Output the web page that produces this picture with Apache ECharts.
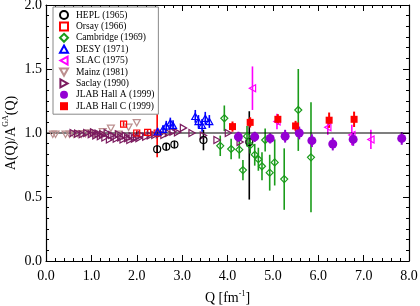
<!DOCTYPE html>
<html><head><meta charset="utf-8">
<script src="https://cdn.jsdelivr.net/npm/echarts@6/dist/echarts.min.js"></script>
<style>html,body{margin:0;padding:0;background:#fff}#c{width:420px;height:306px}</style>
</head><body><div id="c"></div>
<script>
// Each point: [Q (fm^-1), A(Q)/A_GA(Q), error down, error up]
const hepl = [[2.45,0.873,0.03,0.03],[2.65,0.893,0.03,0.03],[2.83,0.91,0.03,0.03],[3.47,0.945,0.08,0.08],[4.48,0.93,0.45,0.24]];
const orsay = [[1.71,1.07,0.02,0.02],[2.0,1.0,0.02,0.02],[2.24,1.005,0.02,0.02],[2.45,1.0,0.19,0.19]];
const cambridge = [[3.84,0.90,0.08,0.08],[3.93,1.115,0.1,0.1],[4.08,0.875,0.08,0.08],[4.26,0.87,0.07,0.07],[4.34,0.71,0.08,0.08],[4.43,0.975,0.08,0.08],[4.50,0.905,0.065,0.065],[4.60,0.83,0.085,0.085],[4.68,0.795,0.09,0.09],[4.76,0.74,0.11,0.11],[4.83,0.945,0.09,0.09],[4.93,0.69,0.14,0.14],[5.04,0.77,0.18,0.18],[5.25,0.64,0.24,0.24],[5.56,1.18,0.32,0.32],[5.84,0.81,0.43,0.43]];
const desy = [[2.46,1.01,0.03,0.03],[2.58,1.03,0.03,0.03],[2.65,1.055,0.04,0.04],[2.74,1.08,0.04,0.04],[2.80,1.06,0.04,0.04],[3.29,1.13,0.05,0.05],[3.36,1.09,0.05,0.05],[3.44,1.06,0.05,0.05],[3.51,1.115,0.05,0.05],[3.60,1.09,0.05,0.05]];
const slac = [[4.55,1.35,0.17,0.17],[5.09,1.09,0.06,0.06],[6.21,1.045,0.06,0.06],[6.74,0.985,0.08,0.08],[7.16,0.95,0.075,0.075]];
const mainzQ = [0.15,0.21,0.43,0.52,0.61,0.70,0.78,0.87,0.95,1.05,1.18,1.25,1.43,1.60,1.82,2.00];
const mainzA = [0.99,0.99,0.99,0.99,0.99,0.995,0.99,0.995,1.0,0.99,0.985,1.01,1.037,0.99,1.045,1.08];
const saclayQ = [0.60,0.70,0.80,0.90,1.00,1.05,1.10,1.15,1.20,1.25,1.30,1.35,1.40,1.45,1.50,1.55,1.60,1.65,1.70,1.75,1.80,1.85,1.90,1.95,2.00,2.05,2.10,2.20,2.30,2.40,2.50,2.60,2.70,2.80,2.90,3.03,3.22,3.47,3.77,4.02,4.28];
const saclayA = [1.0,0.995,0.99,1.0,0.99,1.005,0.98,0.995,0.975,0.99,0.965,1.0,0.95,0.985,0.97,0.955,0.99,0.965,0.95,0.98,0.96,0.945,0.975,0.955,0.97,0.96,0.985,0.97,0.98,0.985,0.99,0.985,1.0,1.01,1.005,1.04,1.0,0.98,0.945,1.0,0.93];
const hallA = [[4.24,0.97,0.04,0.04],[4.60,0.97,0.04,0.04],[4.94,0.958,0.04,0.04],[5.27,0.975,0.05,0.05],[5.58,1.0,0.05,0.05],[5.86,0.94,0.05,0.05],[6.32,0.914,0.05,0.05],[6.77,0.95,0.05,0.05],[7.84,0.958,0.05,0.05]];
const hallC = [[4.11,1.05,0.04,0.04],[4.50,1.083,0.04,0.04],[5.11,1.107,0.04,0.04],[5.50,1.055,0.04,0.04],[6.24,1.10,0.06,0.06],[6.79,1.107,0.06,0.06]];
const xTicks = [0,1,2,3,4,5,6,7,8];
const yTicks = [0,0.5,1,1.5,2];
const refValue = 1.0;

const FONT = 'Liberation Serif';
const mainz = mainzQ.map((q,i)=>[q,mainzA[i],0,0]);
const saclay = saclayQ.map((q,i)=>[q,saclayA[i],0,0]);

const TRI_UP = 'path://M5,0 L10,9 L0,9 Z';
const TRI_DOWN = 'path://M0,0 L10,0 L5,9 Z';
const TRI_LEFT = 'path://M9,0 L9,10 L0,5 Z';
const TRI_RIGHT = 'path://M0,0 L9,5 L0,10 Z';

function errSeries(id, data, color, w){
  return {type:'custom', name:id+'_err', silent:true, clip:true, z:1,
    renderItem(params, api){
      const x=api.value(0), y=api.value(1), lo=api.value(2), hi=api.value(3);
      if(!(lo>0||hi>0)) return null;
      const p1=api.coord([x,y-lo]), p2=api.coord([x,y+hi]);
      return {type:'line', shape:{x1:p1[0],y1:p1[1],x2:p2[0],y2:p2[1]}, style:{stroke:color, lineWidth:w||1.6}};
    },
    encode:{x:0,y:1}, data};
}
function sc(name, data, color, symbol, size, filled){
  return {type:'scatter', name, data, symbol, symbolSize:size, symbolKeepAspect:true, z:3,
    itemStyle:{color: filled?color:'rgba(255,255,255,0)', borderColor:color, borderWidth: filled?0:1.2, opacity:1}};
}
const C = {hepl:'#000000', orsay:'#ff0000', camb:'#1a9c1a', desy:'#0000ff', slac:'#ff00ff', mainz:'#bc8f8f', saclay:'#7a1a5e', hallA:'#9400d3', hallC:'#ff0000'};
const names = ['HEPL (1965)','Orsay (1966)','Cambridge (1969)','DESY (1971)','SLAC (1975)','Mainz (1981)','Saclay (1990)','JLAB Hall A (1999)','JLAB Hall C (1999)'];

const axisCommon = {
  axisLine:{show:true, onZero:false, lineStyle:{color:'#000', width:1.2}},
  axisTick:{show:true, inside:true, length:6, lineStyle:{color:'#000', width:1}},
  splitLine:{show:false}
};
const labelStyle = {color:'#000', fontFamily:FONT, fontSize:14};
const xMinor = {minorTick:{show:true, splitNumber:5, length:3, lineStyle:{color:'#000'}}};
const yMinor = {minorTick:{show:true, splitNumber:6, length:3, lineStyle:{color:'#000'}}};

const option = {
  animation:false,
  backgroundColor:'#fff',
  grid:{left:46, right:11, top:5, bottom:45, containLabel:false, outerBoundsMode:'none'},
  legend:{
    orient:'vertical', left:53, top:7, data:names,
    itemWidth:8, itemHeight:8, itemGap:1.4,
    padding:[3,4,3,6],
    borderColor:'#888', borderWidth:1, backgroundColor:'#fff',
    textStyle:{fontFamily:FONT, fontSize:9.5, lineHeight:10, color:'#000', padding:[0,0,0,3]},
    selectedMode:false
  },
  xAxis:[
    Object.assign({type:'value', min:xTicks[0], max:xTicks[xTicks.length-1], interval:1, position:'bottom',
      axisLabel:Object.assign({formatter:v=>v.toFixed(1), margin:8, showMinLabel:true, showMaxLabel:true}, labelStyle),
      name:'Q [fm{sup|-1}]', nameLocation:'middle', nameGap:29, nameMoveOverlap:false,
      nameTextStyle:{fontFamily:FONT, fontSize:14, color:'#000', rich:{sup:{fontFamily:FONT, fontSize:8, padding:[0,0,8,0]}}}
    }, axisCommon, xMinor),
    Object.assign({type:'value', min:xTicks[0], max:xTicks[xTicks.length-1], interval:1, position:'top', axisLabel:{show:false}}, axisCommon, xMinor)
  ],
  yAxis:[
    Object.assign({type:'value', min:yTicks[0], max:yTicks[yTicks.length-1], interval:0.5, position:'left',
      axisLabel:Object.assign({formatter:v=>v.toFixed(1), margin:4}, labelStyle),
      name:'A(Q)/A{sup|GA}(Q)', nameLocation:'middle', nameGap:26, nameMoveOverlap:false,
      nameTextStyle:{fontFamily:FONT, fontSize:14, color:'#000', rich:{sup:{fontFamily:FONT, fontSize:8, padding:[0,0,10,0]}}}
    }, axisCommon, yMinor),
    Object.assign({type:'value', min:yTicks[0], max:yTicks[yTicks.length-1], interval:0.5, position:'right', axisLabel:{show:false}}, axisCommon, yMinor)
  ],
  series:[
    {type:'line', name:'ref', data:[[xTicks[0],refValue],[xTicks[xTicks.length-1],refValue]], symbol:'none', lineStyle:{color:'#000', width:1.2}, z:2, silent:true},
    errSeries('mainz', mainz, C.mainz), errSeries('saclay', saclay, C.saclay),
    errSeries('orsay', orsay, C.orsay), errSeries('hepl', hepl, C.hepl),
    errSeries('desy', desy, C.desy), errSeries('camb', cambridge, C.camb),
    errSeries('slac', slac, C.slac), errSeries('hallA', hallA, C.hallA, 2), errSeries('hallC', hallC, C.hallC, 2),
    sc(names[5], mainz, C.mainz, TRI_DOWN, 7, false),
    sc(names[6], saclay, C.saclay, TRI_RIGHT, 7, false),
    sc(names[1], orsay, C.orsay, 'rect', 6, false),
    sc(names[0], hepl, C.hepl, 'circle', 7, false),
    sc(names[3], desy, C.desy, TRI_UP, 7, false),
    sc(names[2], cambridge, C.camb, 'diamond', 7, false),
    sc(names[4], slac, C.slac, TRI_LEFT, 7, false),
    sc(names[7], hallA, C.hallA, 'circle', 9, true),
    sc(names[8], hallC, C.hallC, 'rect', 7, true)
  ]
};
const chart = echarts.init(document.getElementById('c'), null, {renderer:'canvas'});
chart.setOption(option);
</script></body></html>
